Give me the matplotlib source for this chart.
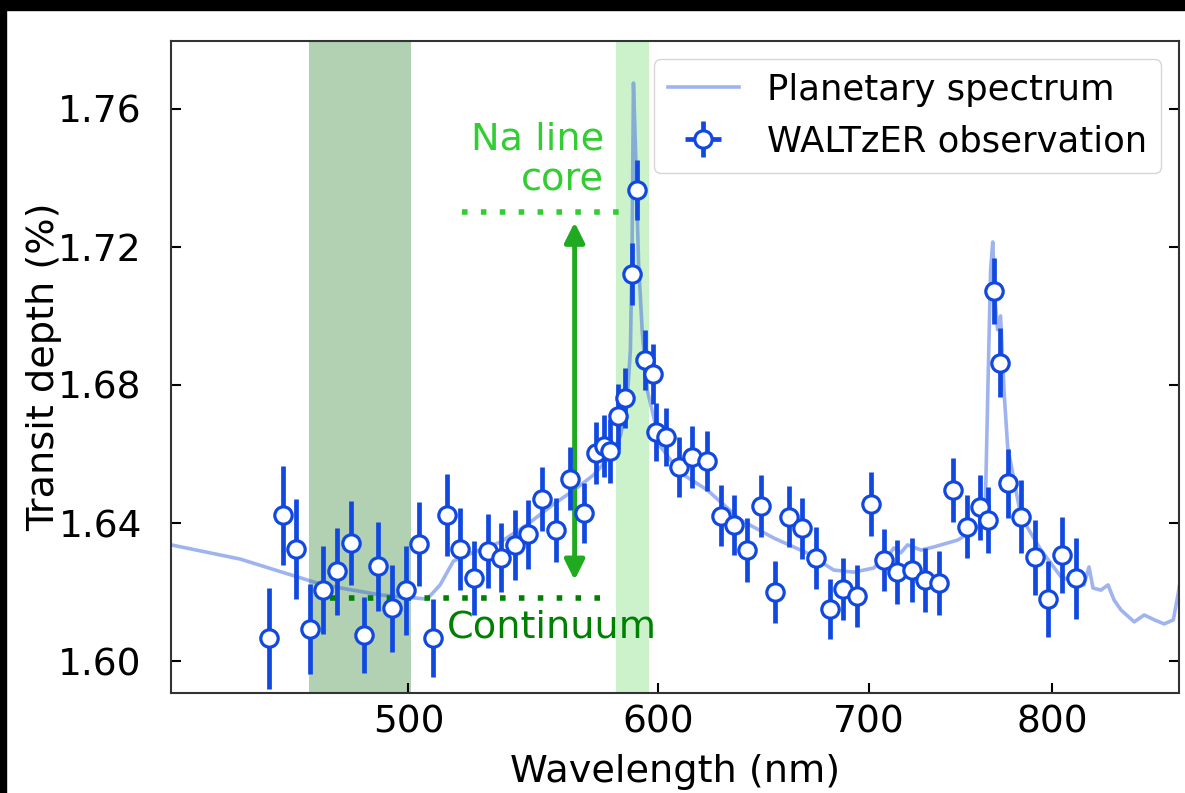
import matplotlib.pyplot as plt
from matplotlib.patches import Rectangle

# WALTzER simulated observation (wavelength nm, transit depth %, 1-sigma)
obs_wl = [451.7, 456.2, 460.6, 465.3, 469.9, 474.7, 479.4, 484.1, 489.1, 494.0,
          499.0, 503.9, 508.9, 514.2, 519.3, 524.4, 529.8, 535.0, 540.6, 545.8,
          551.2, 557.0, 562.5, 568.3, 573.6, 576.7, 579.5, 582.6, 585.5, 588.8,
          590.9, 594.3, 597.6, 599.3, 603.3, 609.2, 615.2, 621.9, 628.0, 634.1,
          640.4, 647.0, 653.3, 660.2, 666.7, 673.2, 680.3, 686.5, 694.0, 700.8,
          707.6, 714.6, 722.0, 729.0, 736.7, 744.3, 751.6, 759.0, 763.2, 767.0,
          770.3, 774.5, 782.1, 790.0, 797.9, 805.6, 814.2]
obs_depth = [1.6066, 1.6422, 1.6325, 1.6094, 1.6207, 1.6260, 1.6343, 1.6076, 1.6275, 1.6153,
             1.6205, 1.6340, 1.6066, 1.6424, 1.6325, 1.6242, 1.6320, 1.6300, 1.6337, 1.6367,
             1.6469, 1.6380, 1.6529, 1.6429, 1.6602, 1.6624, 1.6609, 1.6709, 1.6763, 1.7122,
             1.7365, 1.6873, 1.6831, 1.6665, 1.6649, 1.6563, 1.6592, 1.6580, 1.6421, 1.6395,
             1.6322, 1.6450, 1.6200, 1.6419, 1.6385, 1.6298, 1.6151, 1.6208, 1.6189, 1.6455,
             1.6293, 1.6259, 1.6264, 1.6235, 1.6226, 1.6496, 1.6390, 1.6446, 1.6409, 1.7072,
             1.6865, 1.6515, 1.6419, 1.6301, 1.6180, 1.6309, 1.6240]
obs_err = [0.0145, 0.0142, 0.0145, 0.0131, 0.0128, 0.0125, 0.0122, 0.0109, 0.0129, 0.0125,
           0.0129, 0.0122, 0.0113, 0.0119, 0.0119, 0.0107, 0.0107, 0.0099, 0.0101, 0.0099,
           0.0093, 0.0093, 0.0092, 0.0087, 0.0090, 0.0090, 0.0093, 0.0093, 0.0087, 0.0090,
           0.0087, 0.0087, 0.0087, 0.0084, 0.0084, 0.0087, 0.0090, 0.0088, 0.0088, 0.0087,
           0.0092, 0.0089, 0.0090, 0.0088, 0.0088, 0.0090, 0.0087, 0.0090, 0.0090, 0.0092,
           0.0091, 0.0093, 0.0092, 0.0092, 0.0092, 0.0092, 0.0092, 0.0094, 0.0096, 0.0096,
           0.0099, 0.0101, 0.0106, 0.0109, 0.0111, 0.0110, 0.0118]
obs_xerr = 1.5

# model planetary spectrum
spec_wl = [420.4, 442.1, 469.8, 489.8, 506.9, 511.7, 516.7, 524.2, 534.7, 545.2,
           555.9, 564.0, 572.3, 579.5, 583.8, 586.6, 588.0, 588.7, 589.3, 590.2,
           591.5, 593.1, 595.3, 601.1, 609.9, 621.9, 637.3, 652.8, 669.1, 682.1,
           692.2, 702.4, 706.0, 709.4, 712.7, 716.4, 719.9, 727.0, 733.9, 746.8,
           755.7, 761.8, 763.5, 764.9, 766.1, 767.4, 768.8, 770.5, 772.5, 774.5,
           782.1, 793.6, 805.3, 818.9, 821.9, 824.3, 829.1, 833.4, 837.1, 841.4,
           849.5, 855.7, 862.0, 868.3, 874.1, 877.3, 880.5]
spec_depth = [1.6337, 1.6296, 1.6221, 1.6192, 1.6180, 1.6221, 1.6290, 1.6315, 1.6345, 1.6395,
              1.6455, 1.6494, 1.6539, 1.6594, 1.6654, 1.6754, 1.6904, 1.7191, 1.7674, 1.7480,
              1.7153, 1.6953, 1.6785, 1.6621, 1.6545, 1.6496, 1.6409, 1.6357, 1.6313, 1.6264,
              1.6258, 1.6270, 1.6293, 1.6302, 1.6328, 1.6314, 1.6337, 1.6322, 1.6331, 1.6351,
              1.6380, 1.6409, 1.6814, 1.7133, 1.7214, 1.7046, 1.6960, 1.7000, 1.6777, 1.6620,
              1.6418, 1.6322, 1.6244, 1.6221, 1.6273, 1.6212, 1.6206, 1.6221, 1.6177, 1.6148,
              1.6114, 1.6134, 1.6120, 1.6108, 1.6120, 1.6198, 1.6293]

continuum_band = (465, 501)
na_band = (582, 596)
core_level = 1.7301
continuum_level = 1.6183

xticks = [500, 600, 700, 800]
xticklabels = ['500', '600', '700', '800']
yticks = [1.60, 1.64, 1.68, 1.72, 1.76]
yticklabels = ['1.60', '1.64', '1.68', '1.72', '1.76']

blue = '#1048e0'

fig = plt.figure(figsize=(11.85, 7.93), dpi=100)
ax = fig.add_axes([0.1443, 0.1261, 0.8506, 0.8222])

ax.axvspan(*continuum_band, color='darkgreen', alpha=0.3, lw=0, zorder=0)
ax.axvspan(*na_band, color='limegreen', alpha=0.25, lw=0, zorder=0)

ax.plot(spec_wl, spec_depth, color='royalblue', alpha=0.5, lw=2.6,
        label='Planetary spectrum', zorder=1)
ax.errorbar(obs_wl, obs_depth, yerr=obs_err, xerr=obs_xerr, fmt='o', color=blue,
            mfc='white', mec=blue, ms=12.5, mew=2.3, elinewidth=3.4, capsize=0,
            label='WALTzER observation', zorder=3)

ax.plot([520, 587], [core_level, core_level], ls=(0, (1, 2.4)), color='limegreen', lw=4, zorder=2)
ax.plot([472, 580], [continuum_level, continuum_level], ls=(0, (1, 2.4)), color='green', lw=4, zorder=2)
ax.annotate('', xy=(564.5, core_level - 0.003), xytext=(564.5, continuum_level + 0.0052),
            arrowprops=dict(arrowstyle='<|-|>', color='#1faa1f', lw=3.5,
                            mutation_scale=30, shrinkA=0, shrinkB=0), zorder=2)
ax.text(576.9, 1.7451, 'Na line\ncore', color='limegreen', fontsize=27.5,
        ha='right', va='center', multialignment='right')
ax.text(555.3, 1.6099, 'Continuum', color='green', fontsize=27.5, ha='center', va='center')

ax.set_xscale('log')
ax.set_xlim(420.4, 877.7)
ax.set_ylim(1.5908, 1.7796)
ax.set_xticks(xticks, xticklabels)
ax.set_xticks([], minor=True)
ax.set_yticks(yticks, yticklabels)
ax.tick_params(direction='in', length=7, width=1.5, labelsize=27, right=True)
ax.tick_params(axis='y', pad=21)
ax.tick_params(axis='x', pad=8)
for s in ax.spines.values():
    s.set_linewidth(1.5)
    s.set_color('#333333')

ax.set_xlabel('Wavelength (nm)', fontsize=27.5, labelpad=10)
ax.set_ylabel('Transit depth (%)', fontsize=27.5, labelpad=-3)
ax.legend(loc='upper right', fontsize=25.5)

# dark screenshot border
fig.patches.append(Rectangle((0, 1 - 10 / 793), 1, 10 / 793, transform=fig.transFigure,
                             color='black', zorder=10))
fig.patches.append(Rectangle((0, 0), 6 / 1185, 1, transform=fig.transFigure,
                             color='black', zorder=10))

fig.savefig('out.png', dpi=100)
